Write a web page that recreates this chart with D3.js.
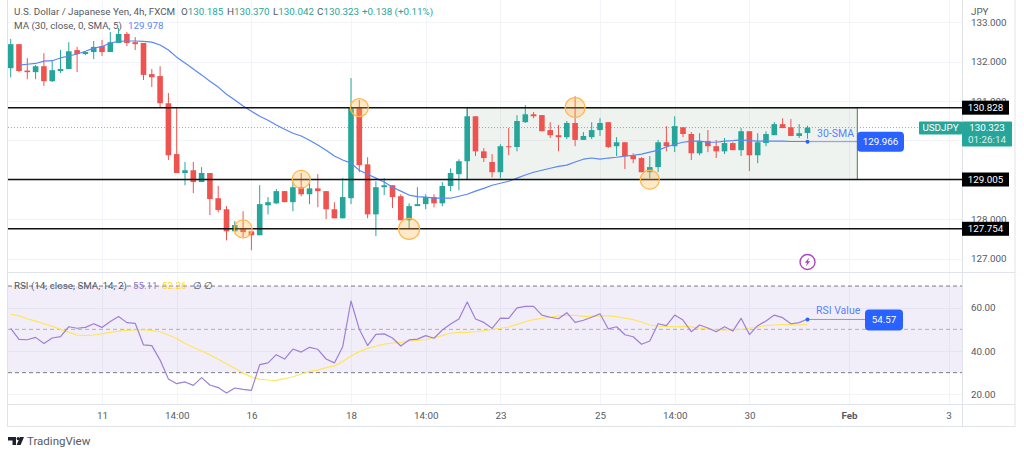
<!DOCTYPE html>
<html>
<head>
<meta charset="utf-8">
<script src="https://cdn.jsdelivr.net/npm/d3@7"></script>
<style>
  html, body { margin: 0; padding: 0; background: #fff; }
  svg { display: block; }
  text { font-family: Roboto, sans-serif; font-size: 9.8px; }
</style>
</head>
<body>
<svg id="chart" width="1024" height="454"></svg>
<script>
// DATA
// ========================================================================
var opens = [131.83,132.44,131.77,131.73,131.88,131.50,131.76,131.81,132.29,132.19,132.24,132.39,132.24,132.47,132.70,132.49,
  132.47,131.68,131.63,130.94,129.65,129.17,129.24,128.94,129.17,128.53,128.25,127.69,127.77,127.69,127.59,128.35,
  128.40,128.71,128.43,128.81,128.63,128.78,128.71,128.25,128.02,128.53,130.82,129.39,128.12,128.81,128.86,128.58,
  127.97,128.33,128.38,128.56,128.40,128.84,129.14,129.47,130.61,129.72,129.45,129.19,129.85,129.83,130.46,130.66,
  130.64,130.26,130.13,130.08,130.44,130.01,130.08,130.26,130.46,129.85,129.95,129.62,129.55,129.19,129.32,129.95,
  129.85,130.33,130.16,129.67,129.98,129.85,129.72,129.93,129.75,130.23,129.62,129.93,130.13,130.41,130.33,130.11,130.185];
var highs = [132.57,132.44,132.09,131.91,132.21,132.04,132.29,132.49,132.37,132.26,132.52,132.55,132.75,132.85,132.75,132.62,
  132.47,131.81,131.88,131.20,130.82,129.45,129.45,129.32,129.17,128.84,128.33,127.95,128.20,127.69,128.86,128.56,
  128.76,128.71,128.94,129.17,128.99,129.14,128.71,128.43,129.04,131.58,131.02,129.57,128.96,129.04,128.86,128.63,
  128.40,128.81,128.63,128.63,128.94,129.29,129.52,130.84,130.61,129.80,129.65,129.90,130.31,130.64,130.89,130.72,
  130.64,130.46,130.39,130.49,131.12,130.21,130.46,130.56,130.46,130.08,129.95,129.67,129.57,129.60,130.01,130.36,
  130.61,130.33,130.21,130.18,130.26,130.01,130.06,129.95,130.31,130.23,130.18,130.23,130.46,130.56,130.54,130.41,130.370];
var lows = [131.60,131.73,131.55,131.55,131.38,131.48,131.71,131.81,131.73,132.16,132.06,132.14,132.24,132.47,132.39,132.29,
  131.53,131.35,130.84,129.50,129.17,128.86,128.66,128.94,128.10,128.17,127.46,127.69,127.54,127.21,127.59,128.12,
  128.38,128.43,128.20,128.58,128.38,128.30,128.00,128.02,128.02,128.38,129.19,128.02,127.57,128.61,128.28,127.97,
  127.77,128.33,128.25,128.30,128.33,128.71,128.73,128.99,129.60,129.45,129.06,129.04,129.62,129.72,130.44,130.56,
  130.23,130.06,129.72,130.03,129.85,130.01,130.03,130.11,129.80,129.60,129.27,129.42,129.19,129.04,129.19,129.72,
  129.70,130.08,129.50,129.62,129.70,129.55,129.65,129.75,129.60,129.22,129.42,129.85,130.13,130.31,130.11,130.06,130.042];
var closes = [132.44,131.76,131.73,131.88,131.50,131.78,131.81,132.26,132.19,132.24,132.37,132.24,132.49,132.70,132.47,132.44,
  131.66,131.60,130.94,129.62,129.17,129.24,128.94,129.17,128.51,128.23,127.69,127.85,127.67,127.59,128.38,128.43,
  128.71,128.43,128.81,128.63,128.78,128.71,128.25,128.02,128.56,130.82,129.37,128.12,128.81,128.86,128.56,127.97,
  128.33,128.38,128.56,128.40,128.84,129.17,129.47,130.61,129.72,129.55,129.19,129.85,129.83,130.49,130.66,130.61,
  130.23,130.13,130.08,130.44,130.01,130.11,130.26,130.44,129.83,129.95,129.60,129.52,129.19,129.32,129.95,129.85,
  130.36,130.16,129.67,129.98,129.85,129.72,129.93,129.75,130.23,129.62,129.95,130.16,130.41,130.31,130.11,130.18,130.323];

// 30 SMA, first value belongs to the second candle
var maValues = [131.91,131.93,131.95,132.01,132.02,132.09,132.14,132.19,132.26,132.34,132.38,132.47,132.51,132.52,132.52,132.51,
  132.49,132.42,132.29,132.11,131.96,131.81,131.66,131.50,131.35,131.17,131.02,130.87,130.74,130.61,130.51,130.39,
  130.28,130.18,130.11,130.00,129.88,129.75,129.60,129.50,129.42,129.24,129.14,129.04,128.94,128.81,128.71,128.61,
  128.57,128.56,128.53,128.53,128.53,128.58,128.63,128.71,128.78,128.86,128.91,128.96,129.04,129.12,129.19,129.24,
  129.29,129.34,129.37,129.45,129.52,129.55,129.52,129.55,129.57,129.60,129.62,129.65,129.70,129.75,129.83,129.90,
  129.95,129.98,129.98,129.95,129.95,129.98,129.99,130.01,129.99,129.98,129.98,129.98,129.98,129.97,129.97,129.97];

var rsiValues = [50.5,45.4,45.2,46.3,43.5,46.0,46.6,51.2,50.5,50.9,52.6,50.9,53.6,55.9,53.1,52.8,
  42.8,42.5,35.8,27.1,24.9,25.7,24.1,27.7,24.3,23.1,20.6,22.9,22.3,21.8,33.7,34.5,
  38.3,36.3,40.9,39.5,41.7,40.8,36.3,34.5,42.0,63.1,50.0,42.5,47.7,47.9,46.0,42.3,
  45.1,45.5,47.1,45.9,49.7,52.5,54.8,62.6,54.8,53.2,50.5,55.2,55.1,59.9,60.6,60.6,
  56.6,55.6,54.9,57.7,53.2,54.2,55.6,57.2,50.2,51.2,47.5,46.6,43.1,44.6,52.6,51.7,
  56.6,54.3,48.9,52.0,50.6,48.9,51.2,49.2,55.1,47.6,51.7,53.9,56.6,55.4,52.6,53.1,54.8];
var rsiSmaValues = [57.1,56.2,54.9,53.8,52.6,51.4,50.0,48.6,47.4,47.1,47.4,48.0,48.6,49.2,49.5,49.7,
  49.7,49.5,48.9,47.4,45.8,43.5,41.7,40.0,38.2,36.2,34.1,32.0,29.8,28.0,26.9,26.6,
  26.4,27.2,28.1,29.4,30.6,31.2,32.3,33.1,35.1,37.7,39.7,41.2,42.2,43.2,43.7,44.0,
  44.6,44.9,45.2,46.2,47.1,48.2,48.6,48.6,48.9,49.4,50.0,50.5,51.1,52.3,53.5,54.5,
  55.1,55.7,56.2,56.5,56.5,56.0,56.0,56.2,56.2,55.9,55.2,54.5,53.4,52.0,51.5,51.4,
  51.2,51.4,51.1,50.6,50.2,49.7,49.7,49.7,50.0,50.5,51.1,51.7,52.0,52.2,52.2,52.0,52.3];

var priceTicks = [133, 132, 131, 130, 129, 128, 127];
var priceTickLabels = [133, 132, 131, 128, 127]; // 130 and 129 sit behind the price tags
var rsiTicks = [60, 40, 20];
var rsiLevels = [70, 50, 30];
var timeTickIndex = [11, 20, 29, 41, 50, 59, 71, 80, 89, 101, 113];
var timeTickLabels = ["11", "14:00", "16", "18", "14:00", "23", "25", "14:00", "30", "Feb", "3"];

var levelPrices = [130.828, 129.005, 127.754];
var markerIndex = [28, 35, 42, 48, 68, 77];
var markerPrice = [127.75, 129.01, 130.83, 127.75, 130.83, 129.0];
var markerRadius = [9, 9, 9, 10.5, 10, 9.5];
var lastPrice = 130.323;
var maLast = 129.966;
var rsiLast = 54.57;
// ========================================================================

var GREEN = "#26a69a", RED = "#ef5350", BLUE = "#2962ff", GRID = "#f2f4f9", BORDER = "#e0e3eb", LABEL = "#555a64";
var PLOT_LEFT = 8, PLOT_RIGHT = 962, PANE_BOTTOM = 272, RSI_BOTTOM = 404, CHART_BOTTOM = 426, CHART_RIGHT = 1015;
var BOX_INDEX_START = 55, BOX_INDEX_END = 102;
var FONT_SIZE = 9.8;

var xScale = d3.scaleLinear().domain([0, 96]).range([10.7, 807.5]);
var yPrice = d3.scaleLinear().domain([132, 127]).range([61.5, 258.5]);
var yRsi = d3.scaleLinear().domain([60, 20]).range([307.7, 394.3]);

var svg = d3.select("#chart");

function drawGrid() {
  var grid = svg.append("g").attr("stroke", GRID).attr("stroke-width", 1);

  grid.selectAll(".vgrid").data(timeTickIndex).enter().append("line")
      .attr("x1", function (d) { return Math.round(xScale(d)) + 0.5; })
      .attr("x2", function (d) { return Math.round(xScale(d)) + 0.5; })
      .attr("y1", 0).attr("y2", RSI_BOTTOM);
  grid.selectAll(".pgrid").data(priceTicks).enter().append("line")
      .attr("x1", PLOT_LEFT).attr("x2", PLOT_RIGHT)
      .attr("y1", function (d) { return Math.round(yPrice(d)) + 0.5; })
      .attr("y2", function (d) { return Math.round(yPrice(d)) + 0.5; });
  grid.selectAll(".rgrid").data(rsiTicks).enter().append("line")
      .attr("x1", PLOT_LEFT).attr("x2", PLOT_RIGHT)
      .attr("y1", function (d) { return Math.round(yRsi(d)) + 0.5; })
      .attr("y2", function (d) { return Math.round(yRsi(d)) + 0.5; });
}

function drawBox() {
  svg.append("rect")
      .attr("x", xScale(BOX_INDEX_START))
      .attr("y", yPrice(levelPrices[0]))
      .attr("width", xScale(BOX_INDEX_END) - xScale(BOX_INDEX_START))
      .attr("height", yPrice(levelPrices[1]) - yPrice(levelPrices[0]))
      .attr("fill", "rgba(76,125,80,0.09)")
      .attr("stroke", "#4f7a55")
      .attr("stroke-width", 1);
}

function drawCandles() {
  var indexes = d3.range(closes.length);
  var candles = svg.append("g");
  function colour(i) { return closes[i] >= opens[i] ? GREEN : RED; }

  candles.selectAll(".wick").data(indexes).enter().append("line")
      .attr("x1", function (i) { return xScale(i); })
      .attr("x2", function (i) { return xScale(i); })
      .attr("y1", function (i) { return yPrice(highs[i]); })
      .attr("y2", function (i) { return yPrice(lows[i]); })
      .attr("stroke", colour)
      .attr("stroke-width", 1);

  candles.selectAll(".body").data(indexes).enter().append("rect")
      .attr("x", function (i) { return xScale(i) - 2.8; })
      .attr("width", 5.6)
      .attr("y", function (i) { return yPrice(Math.max(opens[i], closes[i])); })
      .attr("height", function (i) { return Math.max(1, Math.abs(yPrice(opens[i]) - yPrice(closes[i]))); })
      .attr("fill", colour);
}

function drawLine(values, firstIndex, y, colour, width) {
  var line = d3.line()
      .x(function (d, i) { return xScale(i + firstIndex); })
      .y(function (d) { return y(d); });
  svg.append("path")
      .attr("d", line(values))
      .attr("fill", "none")
      .attr("stroke", colour)
      .attr("stroke-width", width)
      .attr("stroke-linejoin", "round");
}

function drawLevels() {
  // dotted last price line
  svg.append("line")
      .attr("x1", PLOT_LEFT).attr("x2", 919)
      .attr("y1", yPrice(lastPrice)).attr("y2", yPrice(lastPrice))
      .attr("stroke", GREEN).attr("stroke-opacity", 0.7)
      .attr("stroke-dasharray", "1 2");

  svg.selectAll(".level").data(levelPrices).enter().append("line")
      .attr("x1", PLOT_LEFT).attr("x2", PLOT_RIGHT)
      .attr("y1", function (d) { return yPrice(d); })
      .attr("y2", function (d) { return yPrice(d); })
      .attr("stroke", "#111")
      .attr("stroke-width", 1.6);
}

function drawMarkers() {
  svg.selectAll(".marker").data(markerIndex).enter().append("circle")
      .attr("cx", function (d) { return xScale(d); })
      .attr("cy", function (d, i) { return yPrice(markerPrice[i]); })
      .attr("r", function (d, i) { return markerRadius[i]; })
      .attr("fill", "rgba(255,183,77,0.3)")
      .attr("stroke", "#ffb74d")
      .attr("stroke-width", 1.2);
}

function drawRsiPane() {
  svg.append("rect")
      .attr("x", PLOT_LEFT).attr("width", PLOT_RIGHT - PLOT_LEFT)
      .attr("y", yRsi(70)).attr("height", yRsi(30) - yRsi(70))
      .attr("fill", "rgba(126,87,194,0.1)");

  svg.selectAll(".rsilevel").data(rsiLevels).enter().append("line")
      .attr("x1", PLOT_LEFT).attr("x2", PLOT_RIGHT)
      .attr("y1", function (d) { return yRsi(d); })
      .attr("y2", function (d) { return yRsi(d); })
      .attr("stroke", "#787b86")
      .attr("stroke-opacity", function (d) { return d == 50 ? 0.55 : 1; })
      .attr("stroke-dasharray", "4 3");
}

function drawAxes() {
  var priceAxis = d3.axisRight(yPrice).tickValues(priceTickLabels).tickSize(0).tickPadding(9)
      .tickFormat(d3.format(".3f"));
  var rsiAxis = d3.axisRight(yRsi).tickValues(rsiTicks).tickSize(0).tickPadding(9)
      .tickFormat(d3.format(".2f"));
  var timeAxis = d3.axisBottom(xScale).tickValues(timeTickIndex).tickSize(0).tickPadding(8)
      .tickFormat(function (d, i) { return timeTickLabels[i]; });

  var groups = [
    svg.append("g").attr("transform", "translate(" + PLOT_RIGHT + ",0)").call(priceAxis),
    svg.append("g").attr("transform", "translate(" + PLOT_RIGHT + ",0)").call(rsiAxis),
    svg.append("g").attr("transform", "translate(0," + RSI_BOTTOM + ")").call(timeAxis)
  ];
  groups.forEach(function (g) {
    g.select(".domain").remove();
    g.selectAll("text").attr("fill", LABEL).style("font-size", FONT_SIZE + "px");
  });
  groups[2].selectAll("text").filter(function (d) { return d == 101; }).style("font-weight", "bold");

  svg.append("text").attr("x", 971).attr("y", 15).attr("fill", LABEL).text("JPY");
}

function drawFrame() {
  var frame = svg.append("g").attr("stroke", BORDER).attr("stroke-width", 1);
  frame.append("rect")
      .attr("x", PLOT_LEFT - 0.5).attr("y", -2)
      .attr("width", CHART_RIGHT - PLOT_LEFT + 0.5).attr("height", CHART_BOTTOM + 2.5)
      .attr("fill", "none");
  frame.append("line").attr("x1", PLOT_RIGHT + 0.5).attr("x2", PLOT_RIGHT + 0.5).attr("y1", 0).attr("y2", CHART_BOTTOM);
  frame.append("line").attr("x1", PLOT_LEFT).attr("x2", CHART_RIGHT).attr("y1", PANE_BOTTOM + 0.5).attr("y2", PANE_BOTTOM + 0.5);
  frame.append("line").attr("x1", PLOT_LEFT).attr("x2", CHART_RIGHT).attr("y1", RSI_BOTTOM + 0.5).attr("y2", RSI_BOTTOM + 0.5);
}

function labelBox(x, y, w, h, r, fill) {
  svg.append("rect").attr("x", x).attr("y", y).attr("width", w).attr("height", h).attr("rx", r).attr("fill", fill);
}

function labelText(x, y, str, colour, anchor, size) {
  return svg.append("text")
      .attr("x", x).attr("y", y)
      .attr("fill", colour)
      .attr("text-anchor", anchor || "start")
      .style("font-size", (size || FONT_SIZE) + "px")
      .text(str);
}

function drawPriceLabels() {
  levelPrices.forEach(function (p) {
    labelBox(962, yPrice(p) - 7, 47, 14, 0, "#000");
    labelText(985.5, yPrice(p) + 3.5, d3.format(".3f")(p), "#fff", "middle");
  });

  var lastY = yPrice(lastPrice);
  labelBox(919, lastY - 6, 43, 13, 1, GREEN);
  labelText(940.5, lastY + 3.5, "USDJPY", "#fff", "middle");
  labelBox(962, lastY - 6, 50, 25, 1, GREEN);
  labelText(987, lastY + 3.5, d3.format(".3f")(lastPrice), "#fff", "middle");
  labelText(987, lastY + 15.5, "01:26:14", "#d8f0ed", "middle");
}

function drawCallouts() {
  var endX = xScale(96);

  // 30-SMA callout
  var maY = yPrice(maLast);
  svg.append("line").attr("x1", endX).attr("x2", 857).attr("y1", maY).attr("y2", maY).attr("stroke", BLUE).attr("stroke-opacity", 0.6);
  svg.append("circle").attr("cx", endX).attr("cy", maY).attr("r", 2).attr("fill", BLUE);
  labelText(817, 136.5, "30-SMA", BLUE, "start", 10.5).attr("fill-opacity", 0.8);
  labelBox(857, maY - 10, 47, 20, 4, BLUE);
  labelText(880.5, maY + 3.5, d3.format(".3f")(maLast), "#fff", "middle");

  // RSI callout
  var rsiY = yRsi(rsiLast);
  svg.append("line").attr("x1", endX).attr("x2", 865).attr("y1", rsiY).attr("y2", rsiY).attr("stroke", BLUE).attr("stroke-opacity", 0.6);
  svg.append("circle").attr("cx", endX).attr("cy", rsiY).attr("r", 2).attr("fill", BLUE);
  labelText(816, 314, "RSI Value", BLUE, "start", 10.5).attr("fill-opacity", 0.8);
  labelBox(865, rsiY - 10, 38, 21, 4, BLUE);
  labelText(884, rsiY + 3.5, d3.format(".2f")(rsiLast), "#fff", "middle");

  // lightning icon
  var icon = svg.append("g").attr("transform", "translate(" + endX + ",262)");
  icon.append("circle").attr("r", 7.5).attr("fill", "#fff").attr("stroke", "#ab47bc").attr("stroke-width", 1.4);
  icon.append("path").attr("d", "M1.8,-4.5L-2.8,0.8L-0.4,0.8L-1.8,4.5L2.8,-0.8L0.4,-0.8Z").attr("fill", "#ab47bc");
}

function drawLegend() {
  var teal = GREEN;
  labelText(14, 15, "U.S. Dollar / Japanese Yen, 4h, FXCM", LABEL);
  var legendParts = [["O", "130.185", 181], ["H", "130.370", 227], ["L", "130.042", 273], ["C", "130.323", 317]];
  legendParts.forEach(function (part) {
    var t = svg.append("text").attr("x", part[2]).attr("y", 15).attr("fill", LABEL);
    t.append("tspan").text(part[0]);
    t.append("tspan").attr("fill", teal).text(part[1]);
  });
  labelText(362, 15, "+0.138 (+0.11%)", teal);

  labelText(14, 29, "MA (30, close, 0, SMA, 5)", LABEL);
  labelText(128, 29, "129.978", "#5b86f5");

  labelText(14, 288.5, "RSI (14, close, SMA, 14, 2)", LABEL);
  labelText(133, 288.5, "55.11", "#9575cd");
  labelText(162, 288.5, "52.26", "#fdd835");
  labelText(193, 288.5, "\u2205", LABEL);
  labelText(204, 288.5, "\u2205", LABEL);
}

function drawLogo() {
  var logo = svg.append("g").attr("fill", "#1e222d");
  logo.append("path").attr("d", "M8,437H16V445H12.5V440.5H8Z");
  logo.append("circle").attr("cx", 18.2).attr("cy", 438.6).attr("r", 1.6);
  logo.append("path").attr("d", "M20,437H24L20.6,445H16.6Z");
  labelText(27, 445, "TradingView", LABEL, "start", 11.5);
}

function visualizeData() {
  drawGrid();
  drawBox();
  drawRsiPane();
  drawCandles();
  drawLine(maValues, 1, yPrice, "#5b86f5", 1.2);
  drawLevels();
  drawMarkers();
  drawLine(rsiSmaValues, 0, yRsi, "#ffe55c", 1.2);
  drawLine(rsiValues, 0, yRsi, "#9d7fd8", 1.2);
  drawFrame();
  drawAxes();
  drawPriceLabels();
  drawCallouts();
  drawLegend();
  drawLogo();
}

visualizeData();
</script>
</body>
</html>
